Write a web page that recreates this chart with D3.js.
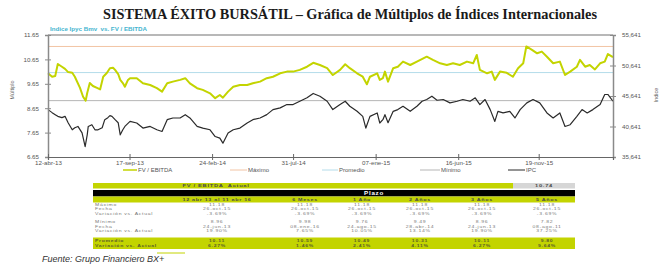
<!DOCTYPE html>
<html><head><meta charset="utf-8">
<script src="https://cdn.jsdelivr.net/npm/d3@7/dist/d3.min.js"></script>
<style>body{margin:0;background:#fff}svg{display:block}</style>
</head><body>
<svg id="c" width="671" height="269"></svg>
<script>
// ---------- DATA ----------
const startDate = "2013-04-12";
const endDate = "2016-04-11";
const fvDays = [0,8,14,19,27,33,39,47,52,62,68,73,76,81,87,95,101,107,114,120,126,130,136,140,145,149,155,159,172,184,198,211,221,231,242,256,266,275,289,300,314,324,333,339,349,359,372,386,397,411,424,436,450,463,475,488,502,514,527,541,552,566,576,585,599,610,618,624,638,643,649,653,659,669,678,688,702,715,734,746,760,773,785,798,812,824,831,837,851,860,866,876,889,901,911,921,927,938,948,957,967,979,992,1002,1012,1025,1031,1041,1050,1060,1070,1079,1085,1095];
const fvValues = [10.08,9.94,9.97,10.46,10.35,10.26,10.13,10.10,9.94,9.48,9.12,8.96,9.27,9.68,9.56,9.48,9.42,9.94,10.09,10.29,10.31,10.22,10.05,9.81,9.68,9.53,9.81,9.88,9.88,9.67,9.60,9.47,9.33,9.67,9.74,9.81,9.88,9.67,9.47,9.40,9.26,9.06,9.19,9.08,9.33,9.53,9.60,9.60,9.67,9.74,9.88,9.94,10.08,10.15,10.15,10.22,10.35,10.51,10.42,10.29,10.01,10.22,10.45,10.29,10.08,9.94,9.63,9.94,10.08,9.81,9.88,10.15,9.74,10.29,10.35,10.56,10.42,10.56,10.76,10.63,10.49,10.42,10.49,10.42,10.56,10.49,10.83,10.22,10.08,10.15,9.81,10.15,10.10,9.94,10.29,10.49,11.18,11.04,10.90,10.97,10.76,10.49,10.56,10.01,10.15,10.35,10.63,10.35,10.42,10.24,10.49,10.56,10.87,10.74];
const ipcDays = [0,8,14,19,27,33,39,47,52,58,66,72,76,78,85,91,97,105,110,116,120,124,130,136,140,145,149,159,172,184,198,211,221,231,242,256,266,275,289,300,314,324,333,339,349,359,372,386,397,411,424,436,450,463,475,488,502,514,527,541,552,566,576,585,599,610,616,624,638,643,649,653,659,669,678,688,702,715,725,734,744,754,766,779,793,804,818,828,837,847,857,866,872,882,895,905,915,928,940,953,967,979,992,1002,1012,1025,1035,1045,1056,1070,1079,1085,1095];
const ipcValues = [43410,42914,42584,42303,42088,42303,41261,40104,40435,40650,39608,37344,39278,40650,40931,40104,40104,40435,41757,42088,42418,42303,41757,41261,39278,40104,40650,41476,41212,40385,40650,40104,39823,41757,42038,42038,42584,42038,40650,40385,40104,38997,38732,37906,39559,40104,40385,41212,41757,42038,42584,43410,43691,44237,44237,44782,45344,46055,45609,44782,43410,44237,44782,43956,43129,42303,40385,42303,42865,41212,41757,42584,41261,43129,43410,43956,43129,43956,44782,45063,45609,44947,45063,44518,44782,45063,44782,45344,44237,45063,43410,41476,43129,42865,43129,42038,43410,44518,45063,44518,42865,42038,42865,40650,40931,42303,43410,42865,43410,44237,45890,45890,44782];
const refMax = 11.18, refAvg = 10.11, refMin = 8.96, actual = 10.74;
const leftTicks = [6.65,7.65,8.65,9.65,10.65,11.65];
const rightTicks = [35641,40641,45641,50641,55641];
const xTickDates = ["2013-04-12","2013-09-17","2014-02-24","2014-07-31","2015-01-07","2015-06-16","2015-11-19"];
const xTickLabels = ["12-abr-13","17-sep-13","24-feb-14","31-jul-14","07-ene-15","16-jun-15","19-nov-15"];
const legendLabels = ["FV / EBITDA","Máximo","Promedio","Mínimo","IPC"];
const colHeaders = ["12 abr 13 al 11 abr 16","6 Meses","1 Año","2 Años","3 Años","5 Años"];
const maxVals = ["11.18","11.18","11.18","11.18","11.18","11.18"];
const maxDates = ["26-oct-15","26-oct-15","26-oct-15","26-oct-15","26-oct-15","26-oct-15"];
const maxVar = ["-3.69%","-3.69%","-3.69%","-3.69%","-3.69%","-3.69%"];
const minVals = ["8.96","9.98","9.76","9.49","8.96","7.82"];
const minDates = ["24-jun-13","08-ene-16","24-ago-15","28-abr-14","24-jun-13","08-ago-11"];
const minVar = ["19.90%","7.65%","10.05%","13.14%","19.90%","37.25%"];
const avgVals = ["10.11","10.59","10.49","10.31","10.11","9.80"];
const avgVar = ["6.27%","1.46%","2.41%","4.11%","6.27%","9.64%"];

// ---------- CHART ----------
const svg = d3.select("#c");
const parse = d3.timeParse("%Y-%m-%d");
const t0 = parse(startDate);
const YG = "#c3d400", MAXC = "#f2c4a4", AVGC = "#b4dcea", MINC = "#b5b5b5", IPCC = "#2a2a2a";
const x = d3.scaleTime().domain([t0, parse(endDate)]).range([48, 613]);
const yL = d3.scaleLinear().domain([6.65, 11.65]).range([157, 35]);
const yR = d3.scaleLinear().domain([35641, 55641]).range([157, 35]);

svg.append("text").attr("x", 350).attr("y", 19).attr("text-anchor", "middle")
  .attr("font-family", "Liberation Serif, DejaVu Serif, serif").attr("font-weight", "bold")
  .attr("font-size", 14.5).attr("fill", "#1a1a1a")
  .attr("textLength", 494).attr("lengthAdjust", "spacingAndGlyphs")
  .text("SISTEMA ÉXITO BURSÁTIL – Gráfica de Múltiplos de Índices Internacionales");
svg.append("text").attr("x", 50).attr("y", 30.5)
  .attr("font-family", "Liberation Sans, Arial, sans-serif").attr("font-weight", "bold")
  .attr("font-size", 6.2).attr("fill", "#45b5cf").attr("xml:space","preserve")
  .text("Indice Ipyc Bmv  vs. FV / EBITDA");

// top frame
svg.append("line").attr("x1", 48).attr("x2", 613).attr("y1", 35).attr("y2", 35)
  .attr("stroke", "#b8b8b8").attr("stroke-width", 2);

// reference lines
[[refMax, MAXC], [refAvg, AVGC], [refMin, MINC]].forEach(([v, c]) => {
  svg.append("line").attr("x1", 48).attr("x2", 613).attr("y1", yL(v)).attr("y2", yL(v))
    .attr("stroke", c).attr("stroke-width", 1);
});

const fvData = fvDays.map((d, i) => ({ date: d3.timeDay.offset(t0, d), v: fvValues[i] }));
const ipcData = ipcDays.map((d, i) => ({ date: d3.timeDay.offset(t0, d), v: ipcValues[i] }));

svg.append("path").datum(ipcData).attr("fill", "none").attr("stroke", IPCC).attr("stroke-width", 1.2)
  .attr("stroke-linejoin", "round")
  .attr("d", d3.line().x(d => x(d.date)).y(d => yR(d.v)));
svg.append("path").datum(fvData).attr("fill", "none").attr("stroke", YG).attr("stroke-width", 2)
  .attr("stroke-linejoin", "round")
  .attr("d", d3.line().x(d => x(d.date)).y(d => yL(d.v)));

const axFont = g => g.selectAll("text").attr("font-family", "Liberation Sans, Arial, sans-serif")
  .attr("font-size", 6.2).attr("fill", "#555");

// left axis
const gl = svg.append("g").attr("transform", "translate(48,0)")
  .call(d3.axisLeft(yL).tickValues(leftTicks).tickFormat(d3.format(".2f")).tickSize(3).tickPadding(6));
gl.select(".domain").attr("stroke", "#8a8a8a").attr("stroke-width", 1.5);
gl.selectAll(".tick line").attr("x2", 3).attr("x1", -3).attr("stroke", "#8a8a8a");
axFont(gl);
// right axis
const gr = svg.append("g").attr("transform", "translate(613,0)")
  .call(d3.axisRight(yR).tickValues(rightTicks).tickFormat(d3.format(",")).tickSize(3).tickPadding(6));
gr.select(".domain").attr("stroke", "#8a8a8a").attr("stroke-width", 1.5);
gr.selectAll(".tick line").attr("x1", -3).attr("x2", 3).attr("stroke", "#8a8a8a");
axFont(gr);
// bottom axis
const gb = svg.append("g").attr("transform", "translate(0,157)")
  .call(d3.axisBottom(x).tickValues(xTickDates.map(parse))
    .tickFormat((d, i) => xTickLabels[i]).tickSize(3).tickPadding(1));
gb.select(".domain").attr("stroke", "#666").attr("stroke-width", 1.2);
gb.selectAll(".tick line").attr("y1", -3).attr("y2", 3).attr("stroke", "#666");
axFont(gb);

svg.append("text").attr("transform", "translate(14,90) rotate(-90)").attr("text-anchor", "middle")
  .attr("font-family", "Liberation Sans, Arial, sans-serif").attr("font-size", 5.5).attr("fill", "#666").text("Múltiplo");
svg.append("text").attr("transform", "translate(658,95) rotate(-90)").attr("text-anchor", "middle")
  .attr("font-family", "Liberation Sans, Arial, sans-serif").attr("font-size", 5.5).attr("fill", "#666").text("Indice");

// legend
const legColors = [YG, MAXC, AVGC, MINC, IPCC];
const legX = [123, 230, 322, 420, 508];
const legW = [14, 17, 16, 20, 17];
legendLabels.forEach((l, i) => {
  svg.append("line").attr("x1", legX[i]).attr("x2", legX[i] + legW[i]).attr("y1", 170).attr("y2", 170)
    .attr("stroke", legColors[i]).attr("stroke-width", i === 0 ? 1.5 : 1);
  svg.append("text").attr("x", legX[i] + legW[i] + 1).attr("y", 172)
    .attr("font-family", "Liberation Sans, Arial, sans-serif").attr("font-size", 6).attr("fill", "#555").text(l);
});

// ---------- TABLE ----------
const T = { x0: 93, x1: 575 };
const tf = "Liberation Sans, Arial, sans-serif";
const FS = 3.9;
function tText(tx, ty, s, opts) {
  const o = Object.assign({ anchor: "start", fs: FS, bold: false, fill: "#7a7a7a", sx: 1.3, ls: 0.55 }, opts || {});
  svg.append("text").attr("transform", `translate(${tx},${ty}) scale(${o.sx},1)`)
    .attr("text-anchor", o.anchor).attr("font-family", tf).attr("font-size", o.fs)
    .attr("font-weight", o.bold ? "bold" : "normal").attr("fill", o.fill)
    .attr("letter-spacing", o.ls).attr("xml:space", "preserve").text(s);
}
svg.append("rect").attr("x", T.x0).attr("y", 183).attr("width", 513 - T.x0).attr("height", 5.5).attr("fill", YG);
svg.append("rect").attr("x", 513).attr("y", 183).attr("width", T.x1 - 513).attr("height", 5.5).attr("fill", "#d6d6d6");
tText(216, 187.4, "FV / EBITDA  Actual", { anchor: "middle", fs: 4.4, bold: true, fill: "#4a4a4a" });
tText(544, 187.4, d3.format(".2f")(actual), { anchor: "middle", fs: 4.4, bold: true, fill: "#4a4a4a" });
svg.append("rect").attr("x", T.x0).attr("y", 190).attr("width", T.x1 - T.x0).attr("height", 6.5).attr("fill", "#000");
tText(374, 195, "Plazo", { anchor: "middle", fs: 4.8, bold: true, fill: "#fff" });
svg.append("rect").attr("x", T.x0).attr("y", 196.5).attr("width", T.x1 - T.x0).attr("height", 6).attr("fill", YG);
svg.append("rect").attr("x", T.x0).attr("y", 237.5).attr("width", T.x1 - T.x0).attr("height", 11.5).attr("fill", YG);

const colX = [217, 305, 362, 420, 482, 547];
colHeaders.forEach((h, i) => tText(colX[i], 200.9, h, { anchor: "middle", fs: FS + 0.2, bold: true, fill: "#4a4a4a" }));

const rows = [
  ["Máximo", maxVals, 205.7, "#7a7a7a"],
  ["Fecha", maxDates, 210.2, "#7a7a7a"],
  ["Variación vs. Actual", maxVar, 214.7, "#7a7a7a"],
  ["Mínimo", minVals, 223.1, "#7a7a7a"],
  ["Fecha", minDates, 227.6, "#7a7a7a"],
  ["Variación vs. Actual", minVar, 232.1, "#7a7a7a"],
  ["Promedio", avgVals, 242.4, "#5b5e2a"],
  ["Variación vs. Actual", avgVar, 247, "#5b5e2a"]
];
rows.forEach(([lab, vals, yy, col]) => {
  const b = col === "#5b5e2a";
  tText(95, yy, lab, { fill: col, bold: b });
  vals.forEach((v, i) => tText(colX[i], yy, v, { anchor: "middle", fill: col, bold: b }));
});

svg.append("line").attr("x1", 157).attr("x2", 185).attr("y1", 253).attr("y2", 253).attr("stroke", YG).attr("stroke-width", 1);
svg.append("text").attr("x", 42).attr("y", 262).attr("font-family", tf).attr("font-style", "italic")
  .attr("font-size", 9).attr("fill", "#333").text("Fuente: Grupo Financiero BX+");
</script>
</body></html>
